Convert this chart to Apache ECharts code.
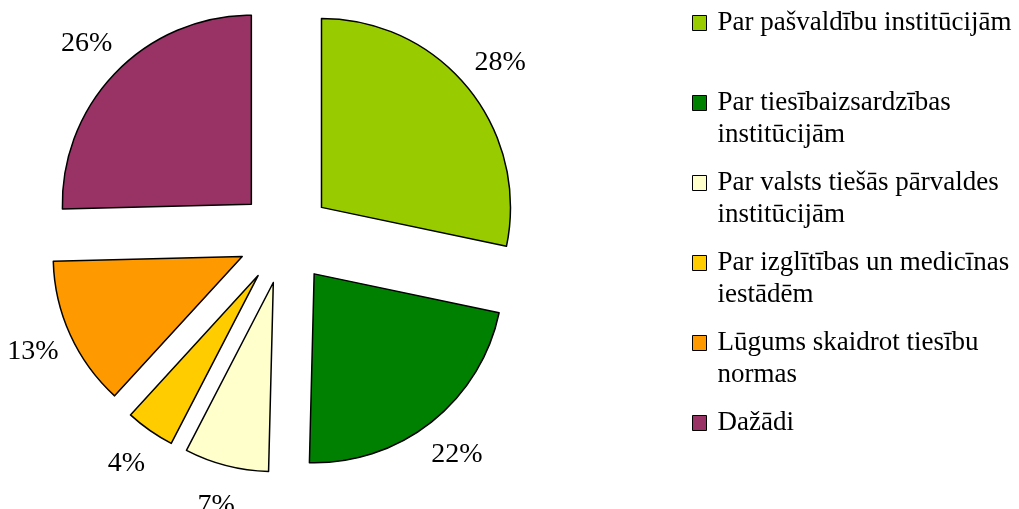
<!DOCTYPE html>
<html>
<head>
<meta charset="utf-8">
<script src="https://cdn.jsdelivr.net/npm/echarts@6/dist/echarts.min.js"></script>
<style>
  html, body { margin: 0; padding: 0; background: #fff; }
  #chart { width: 1019px; height: 509px; }
</style>
</head>
<body>
<div id="chart"></div>
<script>
var chartDom = document.getElementById('chart');
var myChart = echarts.init(chartDom);

// kategorijas un vērtības (%), nolasītas no sektoru leņķiem
var categories = [
    'Par pašvaldību institūcijām',
    'Par tiesībaizsardzības institūcijām',
    'Par valsts tiešās pārvaldes institūcijām',
    'Par izglītības un medicīnas iestādēm',
    'Lūgums skaidrot tiesību normas',
    'Dažādi'
];
var values = [28.3, 22.1, 7.2, 4.2, 12.8, 25.4];
var colors = ['#99CC00', '#008000', '#FFFFCC', '#FFCC00', '#FF9900', '#993366'];
// leģendas teksts ar rindu pārnesumiem
var legendLines = [
    ['Par pašvaldību institūcijām'],
    ['Par tiesībaizsardzības', 'institūcijām'],
    ['Par valsts tiešās pārvaldes', 'institūcijām'],
    ['Par izglītības un medicīnas', 'iestādēm'],
    ['Lūgums skaidrot tiesību', 'normas'],
    ['Dažādi']
];

var center = [285, 237];
var offset = 47;
var blank = '\u00a0';

var pieData = [];
var labelData = [];
for (var i = 0; i < categories.length; i++) {
    pieData.push({
        name: categories[i],
        value: values[i],
        selected: true,
        itemStyle: { color: colors[i] }
    });
    labelData.push({
        name: categories[i] + ' ',
        value: values[i],
        selected: true
    });
}

// ikona pie pirmās rindas: teksts vienmēr 3 rindās, pirmā tukša
function legendText(name) {
    var lines = legendLines[categories.indexOf(name)];
    return blank + '\n' + lines[0] + '\n' + (lines[1] || blank);
}

var option = {
    backgroundColor: '#fff',
    animation: false,
    legend: {
        orient: 'vertical',
        left: 692,
        top: -25,
        padding: 0,
        itemGap: -16,
        itemWidth: 14,
        itemHeight: 15,
        icon: 'rect',
        selectedMode: false,
        data: categories,
        formatter: legendText,
        itemStyle: { borderColor: '#000', borderWidth: 1 },
        textStyle: {
            fontFamily: 'Liberation Serif',
            fontSize: 27,
            lineHeight: 32,
            color: '#000',
            padding: [0, 0, 0, 6]
        }
    },
    series: [
        {
            name: 'main',
            type: 'pie',
            center: center,
            radius: 189,
            startAngle: 90,
            clockwise: true,
            selectedMode: 'multiple',
            selectedOffset: offset,
            silent: true,
            label: { show: false },
            labelLine: { show: false },
            itemStyle: { borderColor: '#000', borderWidth: 1.5 },
            emphasis: { scale: false },
            data: pieData
        },
        {
            name: 'labels',
            type: 'pie',
            center: center,
            radius: [222, 232],
            startAngle: 90,
            clockwise: true,
            selectedMode: 'multiple',
            selectedOffset: offset,
            percentPrecision: 0,
            silent: true,
            itemStyle: { color: 'rgba(0,0,0,0)', borderWidth: 0 },
            emphasis: { scale: false },
            label: {
                show: true,
                position: 'inside',
                formatter: '{d}%',
                fontFamily: 'Liberation Serif',
                fontSize: 28,
                color: '#000'
            },
            labelLine: { show: false },
            data: labelData
        }
    ]
};

myChart.setOption(option);
</script>
</body>
</html>
